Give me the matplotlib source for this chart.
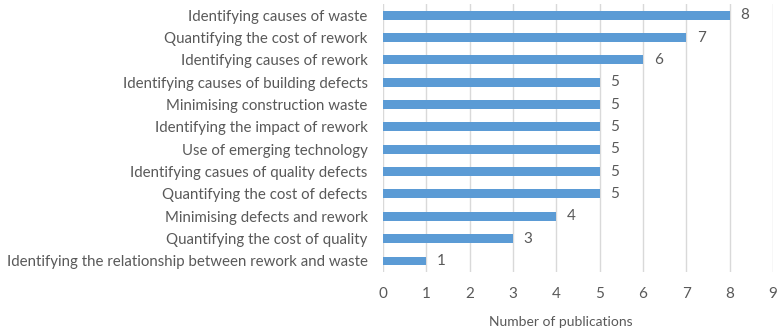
import matplotlib.pyplot as plt

categories = [
    "Identifying causes of waste",
    "Quantifying the cost of rework",
    "Identifying causes of rework",
    "Identifying causes of building defects",
    "Minimising construction waste",
    "Identifying the impact of rework",
    "Use of emerging technology",
    "Identifying casues of quality defects",
    "Quantifying the cost of defects",
    "Minimising defects and rework",
    "Quantifying the cost of quality",
    "Identifying the relationship between rework and waste",
]
publications = [8, 7, 6, 5, 5, 5, 5, 5, 5, 4, 3, 1]
xticks = list(range(0, 10))

plt.rcParams['font.family'] = ['Lato', 'DejaVu Sans']
text_col = '#595959'

fig = plt.figure(figsize=(7.8, 3.36), dpi=100)
ax = fig.add_axes([0.491, 0.19, 0.5, 0.798])

ypos = list(range(len(categories)))
ax.barh(ypos, publications, height=0.4, color='#5B9BD5', zorder=3)
for y, v in zip(ypos, publications):
    ax.text(v + 0.25, y, str(v), va='center', ha='left', fontsize=11, color=text_col)

ax.set_yticks(ypos)
ax.set_yticklabels(categories, fontsize=10.8, color=text_col)
ax.set_ylim(len(categories) - 0.5, -0.5)
ax.set_xlim(0, 9)
ax.set_xticks(xticks)
ax.set_xticklabels([str(t) for t in xticks], fontsize=11, color=text_col)
ax.tick_params(axis='both', length=0)
ax.tick_params(axis='x', pad=11)
ax.tick_params(axis='y', pad=11)
ax.grid(axis='x', color='#D9D9D9', linewidth=1, zorder=0)
for s in ax.spines.values():
    s.set_visible(False)
ax.set_xlabel('Number of publications', fontsize=10, color=text_col)
ax.xaxis.set_label_coords(0.456, -0.165)

fig.savefig('out.png', dpi=100)
